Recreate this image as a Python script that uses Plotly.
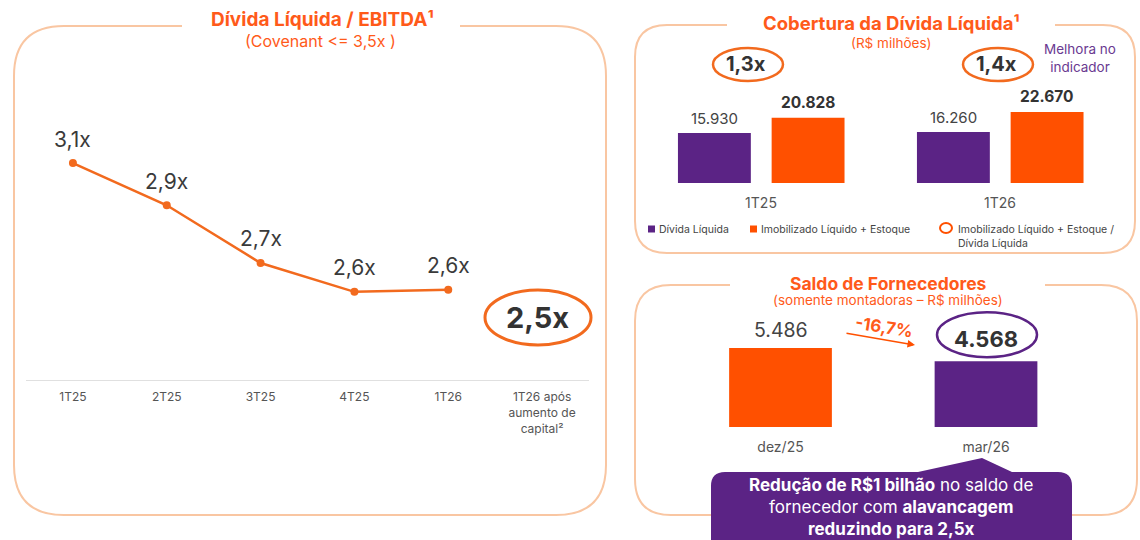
import plotly.graph_objects as go

# ---------------- data ----------------
lev_categories = ["1T25", "2T25", "3T25", "4T25", "1T26", "1T26 após<br>aumento de<br>capital²"]
lev_values = [3.14, 2.95, 2.69, 2.56, 2.57]
lev_labels = ["3,1x", "2,9x", "2,7x", "2,6x", "2,6x"]
lev_after_capital = 2.5
lev_after_label = "2,5x"

cov_categories = ["1T25", "1T26"]
cov_divida = [15930, 16260]
cov_imobilizado = [20828, 22670]

forn_categories = ["dez/25", "mar/26"]
forn_values = [5486, 4568]

# ---------------- style ----------------
W, H = 1140, 540
ORANGE = "#FF5000"
ORANGE_T = "#FF5A1A"
LINE_OR = "#F26A1E"
PURPLE = "#5B2385"
BORDER = "#F9C6A2"
DARK = "#3A3A3A"
GREY = "#555555"
FONT = "Inter"


def px(x):
    return x / W


def py(y):
    return 1 - y / H


def fmt_br(v):
    return f"{v:,}".replace(",", ".")


def panel_path(l, t, r, b, rad, g0, g1):
    pts = []
    pts.append(f"M{px(g1)},{py(t)}")
    pts.append(f"L{px(r - rad)},{py(t)}")
    pts.append(f"Q{px(r)},{py(t)} {px(r)},{py(t + rad)}")
    pts.append(f"L{px(r)},{py(b - rad)}")
    pts.append(f"Q{px(r)},{py(b)} {px(r - rad)},{py(b)}")
    pts.append(f"L{px(l + rad)},{py(b)}")
    pts.append(f"Q{px(l)},{py(b)} {px(l)},{py(b - rad)}")
    pts.append(f"L{px(l)},{py(t + rad)}")
    pts.append(f"Q{px(l)},{py(t)} {px(l + rad)},{py(t)}")
    pts.append(f"L{px(g0)},{py(t)}")
    return " ".join(pts)


fig = go.Figure()

# ---------- left: line chart ----------
n_lev = len(lev_values)
fig.add_trace(go.Scatter(
    x=list(range(n_lev)), y=lev_values, mode="lines+markers",
    line=dict(color=LINE_OR, width=2.5), marker=dict(color=LINE_OR, size=8),
    xaxis="x", yaxis="y", showlegend=False, hoverinfo="skip"))

# ---------- top-right: grouped bars ----------
bw = 0.305
off_p = -0.3475
off_o = 0.0445
fig.add_trace(go.Bar(
    x=list(range(len(cov_categories))), y=cov_divida, width=bw, offset=off_p,
    marker=dict(color=PURPLE, line=dict(width=0)), xaxis="x2", yaxis="y2",
    showlegend=False, hoverinfo="skip"))
fig.add_trace(go.Bar(
    x=list(range(len(cov_categories))), y=cov_imobilizado, width=bw, offset=off_o,
    marker=dict(color=ORANGE, line=dict(width=0)), xaxis="x2", yaxis="y2",
    showlegend=False, hoverinfo="skip"))

# ---------- bottom-right: bars ----------
fig.add_trace(go.Bar(
    x=list(range(len(forn_categories))), y=forn_values, width=0.5, offset=-0.25,
    marker=dict(color=[ORANGE, PURPLE], line=dict(width=0)), xaxis="x3", yaxis="y3",
    showlegend=False, hoverinfo="skip"))

annotations = []
shapes = []

# panels
shapes.append(dict(type="path", xref="paper", yref="paper",
                   path=panel_path(14, 26, 606, 515, 50, 182, 460),
                   line=dict(color=BORDER, width=2)))
shapes.append(dict(type="path", xref="paper", yref="paper",
                   path=panel_path(635, 25, 1135, 253, 32, 727, 1055),
                   line=dict(color=BORDER, width=2)))
shapes.append(dict(type="path", xref="paper", yref="paper",
                   path=panel_path(635, 285, 1137, 515, 36, 730, 1045),
                   line=dict(color=BORDER, width=2)))


def ptext(x, y, text, size, color, xanchor="center", yanchor="middle", align="center", **kw):
    annotations.append(dict(xref="paper", yref="paper", x=px(x), y=py(y), text=text,
                            showarrow=False, xanchor=xanchor, yanchor=yanchor, align=align,
                            font=dict(family=FONT, size=size, color=color), **kw))


# titles
ptext(322, 19, "<b>Dívida Líquida / EBITDA¹</b>", 19, ORANGE_T)
ptext(320, 41, "(Covenant &lt;= 3,5x )", 16, ORANGE_T)
ptext(891, 23, "<b>Cobertura da Dívida Líquida¹</b>", 18.5, ORANGE_T)
ptext(891, 43, "(R$ milhões)", 13.5, ORANGE_T)
ptext(888, 283, "<b>Saldo de Fornecedores</b>", 17.5, ORANGE_T)
ptext(888, 300, "(somente montadoras – R$ milhões)", 13.5, ORANGE_T)

# left value labels
for i, (v, lab) in enumerate(zip(lev_values, lev_labels)):
    annotations.append(dict(xref="x", yref="y", x=i, y=v, text=lab, showarrow=False,
                            xanchor="center", yanchor="middle",
                            yshift=24, font=dict(family=FONT, size=21, color=DARK)))
annotations.append(dict(xref="x", yref="y", x=n_lev, y=lev_after_capital,
                        text=f"<b>{lev_after_label}</b>", showarrow=False,
                        xanchor="center", yanchor="middle",
                        xshift=-5, yshift=-12,
                        font=dict(family=FONT, size=29, color="#333333")))
shapes.append(dict(type="circle", xref="paper", yref="paper",
                   x0=px(485), x1=px(591), y0=py(345), y1=py(290),
                   line=dict(color=LINE_OR, width=3)))

# top-right value labels
for i in range(len(cov_categories)):
    annotations.append(dict(xref="x2", yref="y2", x=i + off_p + bw / 2, y=cov_divida[i],
                            text=fmt_br(cov_divida[i]), showarrow=False, yshift=15,
                            xanchor="center", yanchor="middle",
                            font=dict(family=FONT, size=15, color="#444444")))
    annotations.append(dict(xref="x2", yref="y2", x=i + off_o + bw / 2, y=cov_imobilizado[i],
                            text=f"<b>{fmt_br(cov_imobilizado[i])}</b>", showarrow=False,
                            xanchor="center", yanchor="middle",
                            yshift=15, font=dict(family=FONT, size=15.5, color="#333333")))

# ratio circles
ratio_px = [(746, 64), (996, 64)]
for i in range(len(cov_categories)):
    r = cov_imobilizado[i] / cov_divida[i]
    lab = f"{r:.1f}x".replace(".", ",")
    cx, cy = ratio_px[i]
    ptext(cx, cy, f"<b>{lab}</b>", 20, "#333333")
    shapes.append(dict(type="circle", xref="paper", yref="paper",
                       x0=px(cx - 33), x1=px(cx + 37), y0=py(cy + 17), y1=py(cy - 16),
                       line=dict(color=LINE_OR, width=2.5)))

ptext(1080, 58, "Melhora no<br>indicador", 13.5, "#6A3A91")

# legend (top-right)
shapes.append(dict(type="rect", xref="paper", yref="paper",
                   x0=px(648), x1=px(655), y0=py(232.5), y1=py(225.5),
                   fillcolor=PURPLE, line=dict(width=0)))
ptext(657, 229, "Dívida Líquida", 10.5, "#444444", xanchor="left")
shapes.append(dict(type="rect", xref="paper", yref="paper",
                   x0=px(750), x1=px(757), y0=py(232.5), y1=py(225.5),
                   fillcolor=ORANGE, line=dict(width=0)))
ptext(759, 229, "Imobilizado Líquido + Estoque", 10.5, "#444444", xanchor="left")
shapes.append(dict(type="circle", xref="paper", yref="paper",
                   x0=px(940), x1=px(952), y0=py(233), y1=py(223),
                   line=dict(color=ORANGE, width=2)))
ptext(956, 221, "Imobilizado Líquido + Estoque /<br>Dívida Líquida", 10.5, "#444444",
      xanchor="left", yanchor="top", align="left")

# bottom-right value labels
annotations.append(dict(xref="x3", yref="y3", x=0, y=forn_values[0], text=fmt_br(forn_values[0]),
                        showarrow=False, yshift=18, xanchor="center", yanchor="middle",
                        font=dict(family=FONT, size=19.5, color="#444444")))
annotations.append(dict(xref="x3", yref="y3", x=1, y=forn_values[1],
                        text=f"<b>{fmt_br(forn_values[1])}</b>",
                        showarrow=False, yshift=22, xanchor="center", yanchor="middle",
                        font=dict(family=FONT, size=22, color="#333333")))
shapes.append(dict(type="circle", xref="x3", yref="y3", xsizemode="pixel", ysizemode="pixel",
                   xanchor=1, yanchor=forn_values[1], x0=-49, x1=51, y0=4, y1=49,
                   line=dict(color=PURPLE, width=2.5)))

chg = (forn_values[1] - forn_values[0]) / forn_values[0] * 100
chg_lab = f"{chg:.1f}%".replace(".", ",")
ptext(884, 327, f"<b>{chg_lab}</b>", 17, ORANGE_T, textangle=9)
annotations.append(dict(xref="paper", yref="paper", x=px(915), y=py(345),
                        ax=-70, ay=-12, text="", showarrow=True, arrowhead=2,
                        arrowsize=1, arrowwidth=1.5, arrowcolor=ORANGE))

# callout box
cl, cr, ct, cb, cr_ = 711, 1072, 472, 552, 14
call_path = " ".join([
    f"M{px(cl + cr_)},{py(ct)}",
    f"L{px(918)},{py(ct)}",
    f"L{px(982)},{py(458)}",
    f"L{px(1012)},{py(ct)}",
    f"L{px(cr - cr_)},{py(ct)}",
    f"Q{px(cr)},{py(ct)} {px(cr)},{py(ct + cr_)}",
    f"L{px(cr)},{py(cb)}",
    f"L{px(cl)},{py(cb)}",
    f"L{px(cl)},{py(ct + cr_)}",
    f"Q{px(cl)},{py(ct)} {px(cl + cr_)},{py(ct)}",
    "Z"])
shapes.append(dict(type="path", xref="paper", yref="paper", path=call_path,
                   fillcolor=PURPLE, line=dict(width=0), layer="above"))
ptext(891, 507,
      "<b>Redução de R$1 bilhão</b> no saldo de<br>"
      "fornecedor com <b>alavancagem</b><br>"
      "<b>reduzindo para 2,5x</b>", 17, "white")

fig.update_layout(
    width=W, height=H, autosize=False,
    margin=dict(l=0, r=0, t=0, b=0),
    paper_bgcolor="white", plot_bgcolor="rgba(0,0,0,0)",
    font=dict(family=FONT),
    barmode="overlay",
    xaxis=dict(domain=[px(26), px(589)], range=[-0.5, 5.5], tickvals=list(range(len(lev_categories))),
               ticktext=lev_categories, showline=True, linecolor="#E0E0E0", linewidth=1,
               showgrid=False, zeroline=False, ticks="", ticklabelstandoff=6,
               tickfont=dict(family=FONT, size=12, color=GREY), anchor="y", fixedrange=True),
    yaxis=dict(domain=[py(380), py(100)], range=[2.163, 3.424], visible=False, anchor="x",
               fixedrange=True),
    xaxis2=dict(domain=[px(641.5), px(1119.5)], range=[-0.5, 1.5],
                tickvals=list(range(len(cov_categories))), ticktext=cov_categories,
                showline=False, showgrid=False, zeroline=False, ticks="", ticklabelstandoff=10,
                tickfont=dict(family=FONT, size=14, color=GREY), anchor="y2", fixedrange=True),
    yaxis2=dict(domain=[py(183), py(90)], range=[0, 29665], visible=False, anchor="x2",
                fixedrange=True),
    xaxis3=dict(domain=[px(677.75), px(1088.75)], range=[-0.5, 1.5],
                tickvals=list(range(len(forn_categories))), ticktext=forn_categories,
                showline=False, showgrid=False, zeroline=False, ticks="", ticklabelstandoff=10,
                tickfont=dict(family=FONT, size=14, color=GREY), anchor="y3", fixedrange=True),
    yaxis3=dict(domain=[py(427), py(290)], range=[0, 137 * 5486 / 79], visible=False, anchor="x3",
                fixedrange=True),
    shapes=shapes, annotations=annotations,
)

fig.write_html("out.html", config={"displayModeBar": False},
               post_script="document.body.style.margin='0px';")
